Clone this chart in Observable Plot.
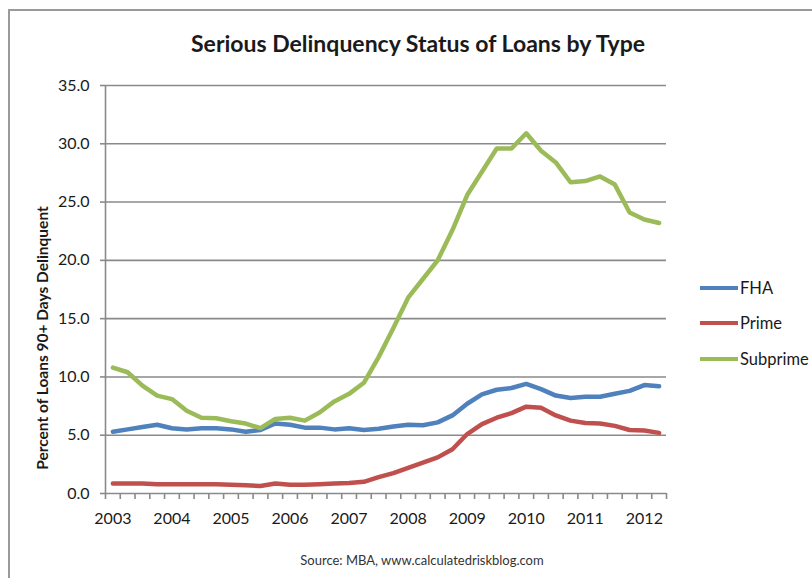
<!DOCTYPE html>
<html>
<head>
<meta charset="utf-8">
<script src="https://cdn.jsdelivr.net/npm/d3@7"></script>
<script src="https://cdn.jsdelivr.net/npm/@observablehq/plot@0.6"></script>
<style>
  html, body { margin: 0; padding: 0; background: #fff; }
  #wrap { position: relative; width: 812px; height: 578px; overflow: hidden; font-family: Lato, "Open Sans", sans-serif; }
  #frame { position: absolute; left: 8px; top: 9px; width: 900px; height: 700px; border-left: 2px solid #9a9a9a; border-top: 2px solid #9a9a9a; }
  #title { position: absolute; left: 0; width: 836px; top: 29px; text-align: center; font-size: 23px; font-weight: bold; color: #1a1a1a; }
  #ylabel { position: absolute; left: -158px; top: 328px; width: 400px; height: 20px; line-height: 20px; text-align: center; transform: rotate(-90deg); white-space: nowrap; font-size: 15.5px; font-weight: bold; color: #1a1a1a; }
  #legend { position: absolute; left: 700px; top: 270px; }
  .item { display: flex; align-items: center; height: 35.5px; font-size: 16.5px; color: #1a1a1a; }
  .swatch { width: 38px; height: 4px; margin-right: 2px; }
  #caption { position: absolute; left: 0; width: 844px; top: 552px; text-align: center; font-size: 13px; color: #333; }
  #chart { position: absolute; left: 0; top: 0; }
</style>
</head>
<body>
<div id="wrap">
  <div id="frame"></div>
  <div id="chart"></div>
  <div id="title">Serious Delinquency Status of Loans by Type</div>
  <div id="ylabel">Percent of Loans 90+ Days Delinquent</div>
  <div id="legend"></div>
  <div id="caption">Source: MBA, www.calculatedriskblog.com</div>
</div>
<script>
// Quarterly data, 2003 Q1 – 2012 Q2
const years = ["2003","2004","2005","2006","2007","2008","2009","2010","2011","2012"];
const quarters = [];
years.forEach(y => ["Q1","Q2","Q3","Q4"].forEach(q => quarters.push(y + q)));
quarters.length = 38;

const fha = [5.3,5.5,5.7,5.9,5.6,5.5,5.6,5.6,5.5,5.3,5.45,6.0,5.9,5.65,5.65,5.5,5.6,5.45,5.55,5.75,5.9,5.85,6.1,6.7,7.7,8.5,8.9,9.05,9.4,8.95,8.4,8.2,8.3,8.3,8.55,8.8,9.3,9.2];
const prime = [0.85,0.85,0.85,0.8,0.8,0.8,0.8,0.8,0.75,0.7,0.65,0.85,0.75,0.75,0.8,0.85,0.9,1.0,1.4,1.75,2.2,2.65,3.1,3.8,5.1,5.95,6.5,6.9,7.45,7.35,6.7,6.25,6.05,6.0,5.8,5.45,5.4,5.2];
const subprime = [10.8,10.4,9.25,8.4,8.1,7.1,6.5,6.45,6.2,6.0,5.6,6.4,6.5,6.25,6.95,7.9,8.55,9.5,11.7,14.2,16.8,18.4,20.0,22.6,25.6,27.6,29.6,29.6,30.9,29.4,28.4,26.7,26.8,27.2,26.5,24.1,23.5,23.2];

const seriesNames = ["FHA", "Prime", "Subprime"];
const seriesColors = ["#4F81BD", "#C0504D", "#9BBB59"];
const seriesValues = [fha, prime, subprime];

const rows = [];
seriesNames.forEach((name, s) => {
  seriesValues[s].forEach((v, i) => rows.push({series: name, q: i, quarter: quarters[i], value: v}));
});

const chart = Plot.plot({
  width: 812,
  height: 578,
  marginLeft: 105,
  marginRight: 146,
  marginTop: 85,
  marginBottom: 85,
  style: {fontFamily: "Lato, 'Open Sans', sans-serif", fontSize: "16px", color: "#1a1a1a", background: "transparent"},
  x: {domain: [-0.5, 37.5]},
  y: {domain: [0, 35]},
  color: {domain: seriesNames, range: seriesColors},
  marks: [
    Plot.gridY({ticks: d3.range(5, 36, 5), stroke: "#8a8a8a", strokeOpacity: 1, strokeWidth: 1.6}),
    Plot.axisY({ticks: d3.range(0, 36, 5), tickFormat: d3.format(".1f"), tickSize: 5, tickPadding: 11, stroke: "#8a8a8a", strokeWidth: 1.6, label: null, fontSize: 16}),
    Plot.axisX({ticks: d3.range(-0.5, 38, 1), tickFormat: () => "", tickSize: 6, stroke: "#8a8a8a", strokeWidth: 1.6, label: null}),
    Plot.axisX({ticks: d3.range(0, 38, 4), tickFormat: i => years[i / 4], tickSize: 0, tickPadding: 19, label: null, fontSize: 16}),
    Plot.ruleX([-0.5], {stroke: "#8a8a8a", strokeWidth: 1.6}),
    Plot.ruleY([0], {stroke: "#8a8a8a", strokeWidth: 1.6}),
    Plot.line(rows, {x: "q", y: "value", z: "series", stroke: "series", strokeWidth: 4.5, strokeLinejoin: "round", strokeLinecap: "round"})
  ]
});
document.getElementById("chart").appendChild(chart);

const legend = document.getElementById("legend");
seriesNames.forEach((name, s) => {
  const item = document.createElement("div");
  item.className = "item";
  const sw = document.createElement("span");
  sw.className = "swatch";
  sw.style.background = seriesColors[s];
  const label = document.createElement("span");
  label.textContent = name;
  item.appendChild(sw);
  item.appendChild(label);
  legend.appendChild(item);
});
</script>
</body>
</html>
